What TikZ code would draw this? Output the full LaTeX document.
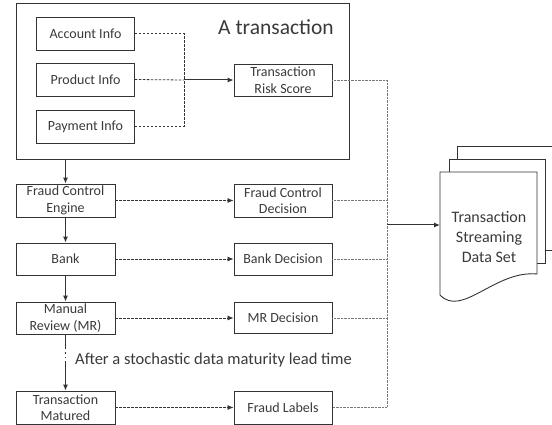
\documentclass[tikz,border=0pt]{standalone}
\usepackage{fontspec}
\setmainfont{Carlito}
\usetikzlibrary{arrows.meta}
\definecolor{ink}{HTML}{333333}
\definecolor{txt}{HTML}{3A3A3A}
\definecolor{dots}{HTML}{777777}
\begin{document}
\begin{tikzpicture}[x=1pt,y=-1pt,
  box/.style={draw=ink,line width=0.9pt,minimum width=98pt,minimum height=33pt,
    inner sep=1pt,align=center,font=\fontsize{14}{16.5}\selectfont,text=txt},
  dashline/.style={ink,line width=0.8pt,dash pattern=on 2.5pt off 1.5pt},
  dotline/.style={dots,line width=0.8pt,dash pattern=on 0.8pt off 0.6pt},
  solidline/.style={ink,line width=1pt},
  tip/.style={-{Latex[length=6pt,width=5pt]}}]
\useasboundingbox (0,0) rectangle (552,425);

% transaction container
\node[draw=ink,line width=1pt,minimum width=333pt,minimum height=156pt,inner sep=0pt]
  (trx) at (182.5,82) {};
\node[text=txt,font=\fontsize{21.5}{24}\selectfont] (trxlabel) at (276,27) {A transaction};

% transaction attributes
\node[box] (acc) at (85.5,33.5) {Account Info};
\node[box] (prod) at (85.5,79.5) {Product Info};
\node[box] (pay) at (85.5,126.5) {Payment Info};
\node[box,minimum height=32pt] (trs) at (283,80) {Transaction\\Risk Score};

\coordinate (merge) at (184,80);
\draw[dashline] (acc.east) -| (merge);
\draw[dashline] (pay.east) -| (merge);
\draw[dashline] (prod.east) -- (merge);
\draw[solidline,tip] (merge) -- (trs.west);

% processing chain
\node[box,minimum width=99pt] (fce) at (65.5,200.5) {Fraud Control\\Engine};
\node[box] (fcd) at (283,200.5) {Fraud Control\\Decision};
\node[box,minimum width=99pt,minimum height=32pt] (bank) at (65.5,259) {Bank};
\node[box,minimum height=32pt] (bd) at (283,259) {Bank Decision};
\node[box,minimum width=99pt,minimum height=32pt] (mr) at (65.5,318) {Manual\\Review (MR)};
\node[box,minimum height=31pt] (mrd) at (283,318) {MR Decision};
\node[box,minimum width=99pt] (tm) at (65.5,407.5) {Transaction\\Matured};
\node[box] (fl) at (283,407.5) {Fraud Labels};

\draw[solidline,tip] (trx.south -| fce.north) -- (fce.north);
\draw[solidline,tip] (fce) -- (bank);
\draw[solidline,tip] (bank) -- (mr);
\draw[ink,line width=1pt,tip,
  dash pattern=on 15pt off 3pt on 1.5pt off 3pt on 1.5pt off 3pt on 60pt]
  (mr.south) -- (tm.north);
\node[anchor=west,text=txt,font=\fontsize{16.5}{19}\selectfont,inner sep=0pt]
  (lead) at (75,360) {After a stochastic data maturity lead time};

\draw[dashline,tip] (fce) -- (fcd);
\draw[dashline,tip] (bank) -- (bd);
\draw[dashline,tip] (mr) -- (mrd);
\draw[dashline,tip] (tm) -- (fl);

% collection bus
\coordinate (bustop) at (387,80);
\coordinate (busbot) at (387,407.5);
\coordinate (busout) at (387,225);
\draw[dotline] (trs.east) -- (bustop) -- (busbot) -- (fl.east);
\draw[dotline] (fcd.east) -- (fcd.east -| bustop);
\draw[dotline] (bd.east) -- (bd.east -| bustop);
\draw[dotline] (mrd.east) -- (mrd.east -| bustop);

% stacked documents
\draw[ink,line width=0.9pt,fill=white] (560,250) -- (457,250) -- (457,146) -- (560,146);
\draw[ink,line width=0.9pt,fill=white] (449,159) rectangle (545,263);
\draw[ink,line width=0.9pt,fill=white] (440,295) -- (440,172) -- (537,172) -- (537,274)
  .. controls (495,270) and (462,318) .. (440,295) -- cycle;
\node[text=txt,align=center,font=\fontsize{16}{20}\selectfont] (ds) at (489,237)
  {Transaction\\Streaming\\Data Set};
\coordinate (docin) at (440,225);
\draw[ink,line width=1pt,tip] (busout) -- (docin);
\end{tikzpicture}
\end{document}
